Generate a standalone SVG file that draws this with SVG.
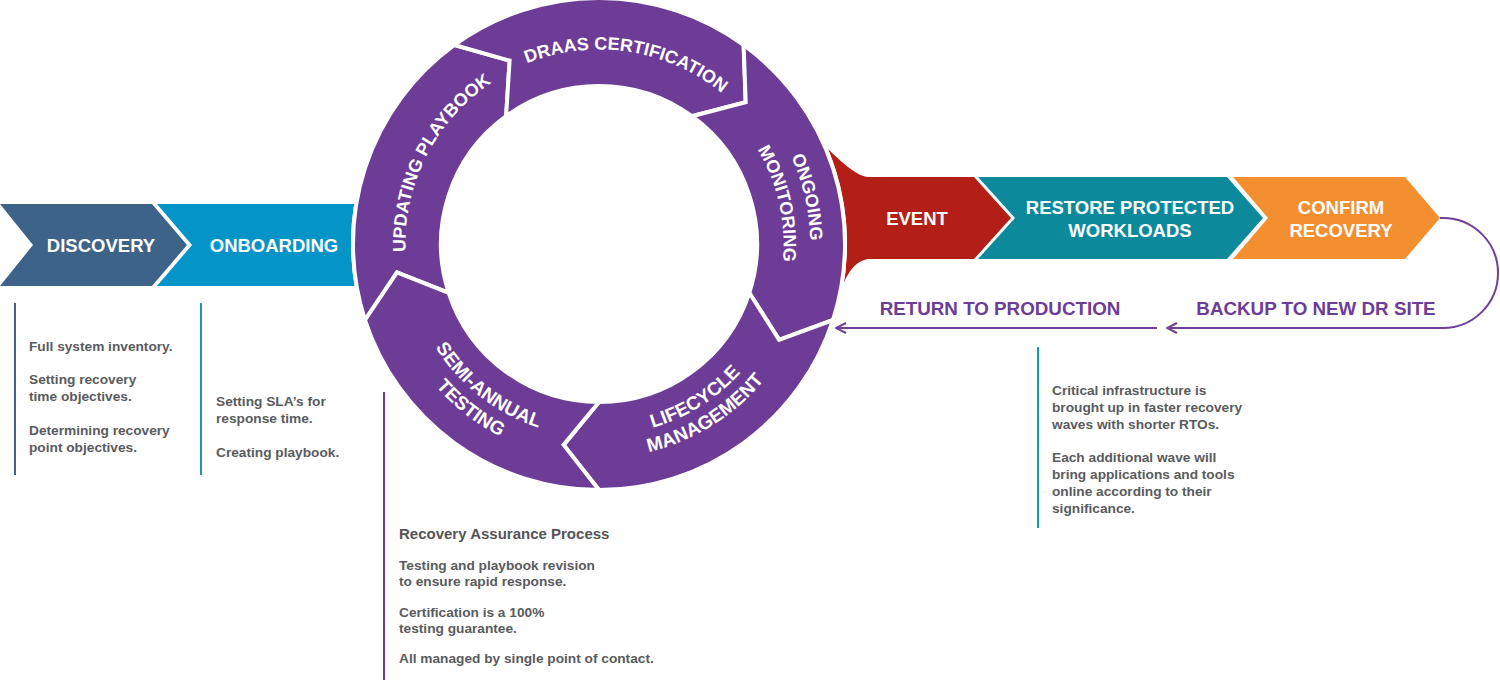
<svg xmlns="http://www.w3.org/2000/svg" width="1500" height="680" viewBox="0 0 1500 680">
<defs>
<style>
.h{font-family:"Liberation Sans",Arial,sans-serif;font-weight:700;font-size:18.5px;fill:#fff;text-anchor:middle}
.r{font-family:"Liberation Sans",Arial,sans-serif;font-weight:700;font-size:18px;fill:#fff;text-anchor:middle}
.r2{font-family:"Liberation Sans",Arial,sans-serif;font-weight:700;font-size:19px;fill:#fff;text-anchor:middle}
.p{font-family:"Liberation Sans",Arial,sans-serif;font-weight:700;font-size:18.8px;fill:#6b3d99;text-anchor:middle}
.b{font-family:"Liberation Sans",Arial,sans-serif;font-weight:700;font-size:13.7px;fill:#5a5b5d}
.bh{font-family:"Liberation Sans",Arial,sans-serif;font-weight:700;font-size:15px;fill:#545456}
.seg{fill:#6c3c96;stroke:#fff;stroke-width:4;stroke-linejoin:miter}
.conn{fill:none;stroke:#6f3f9b;stroke-width:2}
.vl{stroke-width:2;fill:none}
</style>
<marker id="ah" viewBox="0 0 12 12" refX="11" refY="6" markerWidth="12" markerHeight="12" orient="auto" markerUnits="userSpaceOnUse">
<path d="M1,1 L11,6 L1,11" fill="none" stroke="#6f3f9b" stroke-width="2"/>
</marker>
<path id="tpDraas" d="M428.4,150.6 A194.5,194.5 0 0 1 789.7,205.9"/>
<path id="tpUpd" d="M457.5,376 A193.5,193.5 0 0 1 622.6,51.9"/>
<path id="tpOng" d="M625.8,34.7 A211,211 0 0 1 713.0,421.6"/>
<path id="tpMon" d="M622.4,61.0 A184.5,184.5 0 0 1 698.7,399.3"/>
<path id="tpLife" d="M481.1,394.9 A191.5,191.5 0 0 0 786.3,204.2"/>
<path id="tpMan" d="M467.2,412.6 A214,214 0 0 0 808.3,199.5"/>
<path id="tpSemi" d="M415.0,184.2 A193.5,193.5 0 0 0 701.5,408.1"/>
<path id="tpTest" d="M393.1,177.1 A216.5,216.5 0 0 0 713.7,427.6"/>
</defs>
<rect width="1500" height="680" fill="#fff"/>

<g id="discovery">
<path d="M0,204 L152,204 L187,245 L152,286 L0,286 L33,245 Z" fill="#3d6389"/>
<text class="h" x="101" y="252">DISCOVERY</text>
</g>
<g id="onboarding">
<path d="M157,204 L362,204 L362,286 L157,286 L192,245 Z" fill="#0594c8"/>
<text class="h" x="274" y="252">ONBOARDING</text>
</g>
<g id="event">
<path d="M827,148 Q856,177 868,177 L974,177 L1011,218 L974,259 L868,259 Q852,261 842,287 L815,287 L815,148 Z" fill="#b31f17"/>
<text class="h" x="917" y="225">EVENT</text>
</g>
<g id="restore">
<path d="M978,177 L1227,177 L1263,218 L1227,259 L978,259 L1015,218 Z" fill="#0c8a9c"/>
<text class="h"><tspan x="1130" y="214">RESTORE PROTECTED</tspan><tspan x="1130" y="237">WORKLOADS</tspan></text>
</g>
<g id="confirm">
<path d="M1233,177 L1405,177 L1440,218 L1405,259 L1233,259 L1268,218 Z" fill="#f48f2f"/>
<text class="h"><tspan x="1341" y="214">CONFIRM</tspan><tspan x="1341" y="237">RECOVERY</tspan></text>
</g>

<circle cx="599" cy="244" r="248" fill="#fff"/>

<g id="updating-playbook">
<path class="seg" d="M365.0,320.0 A246,246 0 0 1 454.4,45.0 L509.6,60.6 L506.1,116.2 A158,158 0 0 0 448.7,292.8 L397.0,272.4 Z"/>
<text class="r"><textPath href="#tpUpd" startOffset="50%">UPDATING PLAYBOOK</textPath></text>
</g>
<g id="draas-certification">
<path class="seg" d="M454.4,45.0 A246,246 0 0 1 743.6,45.0 L745.7,102.3 L691.9,116.2 A158,158 0 0 0 506.1,116.2 L509.6,60.6 Z"/>
<text class="r"><textPath href="#tpDraas" startOffset="50%">DRAAS CERTIFICATION</textPath></text>
</g>
<g id="ongoing-monitoring">
<path class="seg" d="M743.6,45.0 A246,246 0 0 1 833.0,320.0 L779.1,339.8 L749.3,292.8 A158,158 0 0 0 691.9,116.2 L745.7,102.3 Z"/>
<text class="r"><textPath href="#tpOng" startOffset="50%">ONGOING</textPath><textPath href="#tpMon" startOffset="50%">MONITORING</textPath></text>
</g>
<g id="lifecycle-management">
<path class="seg" d="M833.0,320.0 A246,246 0 0 1 599,490 L563.6,444.9 L599,402 A158,158 0 0 0 749.3,292.8 L779.1,339.8 Z"/>
<text class="r2"><textPath href="#tpLife" startOffset="50%">LIFECYCLE</textPath><textPath href="#tpMan" startOffset="50%">MANAGEMENT</textPath></text>
</g>
<g id="semi-annual-testing">
<path class="seg" d="M599,490 A246,246 0 0 1 365.0,320.0 L397.0,272.4 L448.7,292.8 A158,158 0 0 0 599,402 L563.6,444.9 Z"/>
<text class="r2"><textPath href="#tpSemi" startOffset="50%">SEMI-ANNUAL</textPath><textPath href="#tpTest" startOffset="50%">TESTING</textPath></text>
</g>

<g id="connectors">
<path class="conn" d="M1440,218 L1443,218 A55,55 0 0 1 1443,328 L1167,328" marker-end="url(#ah)"/>
<path class="conn" d="M1157,328 L836,328" marker-end="url(#ah)"/>
</g>
<g id="loop-labels">
<text class="p" x="1000" y="315">RETURN TO PRODUCTION</text>
<text class="p" x="1316" y="315">BACKUP TO NEW DR SITE</text>
</g>

<g id="discovery-notes">
<line class="vl" x1="15" y1="303" x2="15" y2="475" stroke="#3d6389"/>
<text class="b"><tspan x="29" y="351">Full system inventory.</tspan><tspan x="29" y="384">Setting recovery</tspan><tspan x="29" y="401">time objectives.</tspan><tspan x="29" y="435">Determining recovery</tspan><tspan x="29" y="452">point objectives.</tspan></text>
</g>
<g id="onboarding-notes">
<line class="vl" x1="201" y1="303" x2="201" y2="475" stroke="#1b9aaa"/>
<text class="b"><tspan x="216" y="406">Setting SLA’s for</tspan><tspan x="216" y="423">response time.</tspan><tspan x="216" y="457">Creating playbook.</tspan></text>
</g>
<g id="recovery-assurance-notes">
<line class="vl" x1="384" y1="392" x2="384" y2="680" stroke="#6c3c96"/>
<text class="bh" x="399" y="539">Recovery Assurance Process</text>
<text class="b"><tspan x="399" y="570">Testing and playbook revision</tspan><tspan x="399" y="586">to ensure rapid response.</tspan><tspan x="399" y="617">Certification is a 100%</tspan><tspan x="399" y="633">testing guarantee.</tspan><tspan x="399" y="663">All managed by single point of contact.</tspan></text>
</g>
<g id="recovery-waves-notes">
<line class="vl" x1="1038" y1="347" x2="1038" y2="528" stroke="#1b9aaa"/>
<text class="b"><tspan x="1052" y="395">Critical infrastructure is</tspan><tspan x="1052" y="412">brought up in faster recovery</tspan><tspan x="1052" y="429">waves with shorter RTOs.</tspan><tspan x="1052" y="462">Each additional wave will</tspan><tspan x="1052" y="479">bring applications and tools</tspan><tspan x="1052" y="496">online according to their</tspan><tspan x="1052" y="513">significance.</tspan></text>
</g>
</svg>
